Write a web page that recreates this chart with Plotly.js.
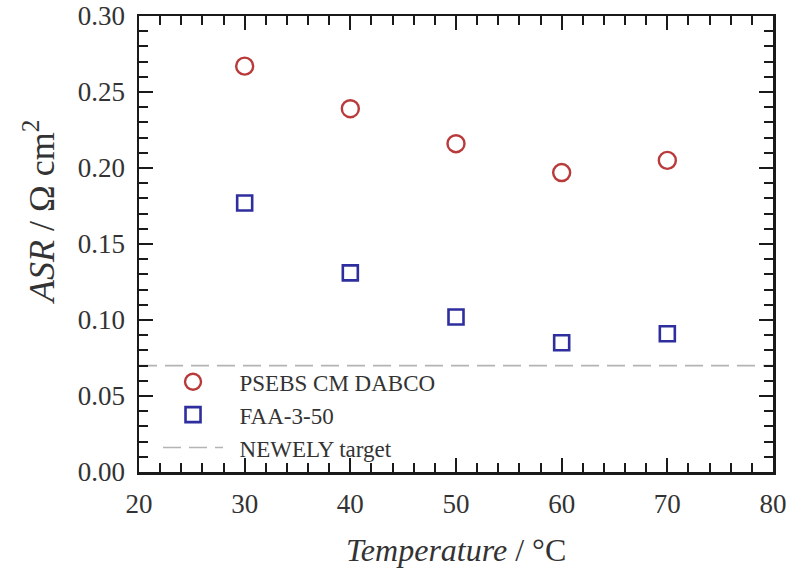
<!DOCTYPE html>
<html>
<head>
<meta charset="utf-8">
<script src="https://cdn.plot.ly/plotly-3.0.1.min.js"></script>
<style>
  html, body { margin: 0; padding: 0; background: #fff; }
  #chart { width: 793px; height: 570px; }
</style>
</head>
<body>
<div id="chart"></div>
<script>
// Area-specific resistance of two membranes versus cell temperature
const temperatures = [30, 40, 50, 60, 70];
const asrPsebs = [0.267, 0.239, 0.216, 0.197, 0.205];
const asrFaa = [0.177, 0.131, 0.102, 0.085, 0.091];
const targetX = [20, 80];
const targetY = [0.07, 0.07];

const seriesNames = ['PSEBS CM DABCO', 'FAA-3-50', 'NEWELY target'];
const xTicks = [20, 30, 40, 50, 60, 70, 80];
const yTicks = [0.00, 0.05, 0.10, 0.15, 0.20, 0.25, 0.30];

const serif = 'Liberation Serif, Times New Roman, serif';
const pad = '\u00a0\u00a0';

const traces = [
  {
    x: temperatures, y: asrPsebs, name: pad + seriesNames[0],
    type: 'scatter', mode: 'markers',
    marker: { symbol: 'circle-open', size: 17, color: '#b83a3a', line: { width: 2.4, color: '#b83a3a' } }
  },
  {
    x: temperatures, y: asrFaa, name: pad + seriesNames[1],
    type: 'scatter', mode: 'markers',
    marker: { symbol: 'square-open', size: 15, color: '#2e2e9e', line: { width: 2.6, color: '#2e2e9e' } }
  },
  {
    x: targetX, y: targetY, name: pad + seriesNames[2],
    type: 'scatter', mode: 'lines',
    line: { color: '#b4b4b4', width: 1.6, dash: '18px,8px' }
  }
];

const axisCommon = {
  showline: true, linecolor: '#1a1a1a', linewidth: 2.5, mirror: 'allticks',
  ticks: 'inside', ticklen: 14, tickwidth: 2, tickcolor: '#1a1a1a',
  showgrid: false, zeroline: false,
  tickfont: { family: serif, size: 27, color: '#333' }
};

const layout = {
  width: 793, height: 570,
  margin: { l: 139, r: 20, t: 16, b: 98 },
  paper_bgcolor: '#fff', plot_bgcolor: '#fff',
  showlegend: true,
  legend: {
    x: 0.03, y: 0.245, xanchor: 'left', yanchor: 'top',
    bgcolor: 'rgba(0,0,0,0)', borderwidth: 0, itemwidth: 60,
    font: { family: serif, size: 23, color: '#333' },
    tracegroupgap: 0
  },
  xaxis: Object.assign({}, axisCommon, {
    range: [20, 80], tickmode: 'array', tickvals: xTicks,
    ticktext: xTicks.map(String), ticklabelstandoff: 6,
    minor: { dtick: 2, ticks: 'inside', ticklen: 9, tickwidth: 2, tickcolor: '#1a1a1a' }
  }),
  yaxis: Object.assign({}, axisCommon, {
    range: [0, 0.3], tickmode: 'array', tickvals: yTicks,
    ticktext: yTicks.map(v => v.toFixed(2)), ticklabelstandoff: 6,
    minor: { dtick: 0.01, ticks: 'inside', ticklen: 9, tickwidth: 2, tickcolor: '#1a1a1a' }
  }),
  annotations: [
    {
      text: '<i>Temperature</i> / \u00b0C', xref: 'paper', yref: 'paper',
      x: 0.5, y: -0.172, xanchor: 'center', yanchor: 'middle', showarrow: false,
      font: { family: serif, size: 32, color: '#333' }
    },
    {
      text: '<i>ASR</i> / \u03a9 cm<sup>2</sup>', xref: 'paper', yref: 'paper',
      x: -0.158, y: 0.57, xanchor: 'center', yanchor: 'middle', showarrow: false,
      textangle: -90,
      font: { family: serif, size: 36, color: '#333' }
    }
  ]
};

Plotly.newPlot('chart', traces, layout, { displayModeBar: false, staticPlot: true });
</script>
</body>
</html>
